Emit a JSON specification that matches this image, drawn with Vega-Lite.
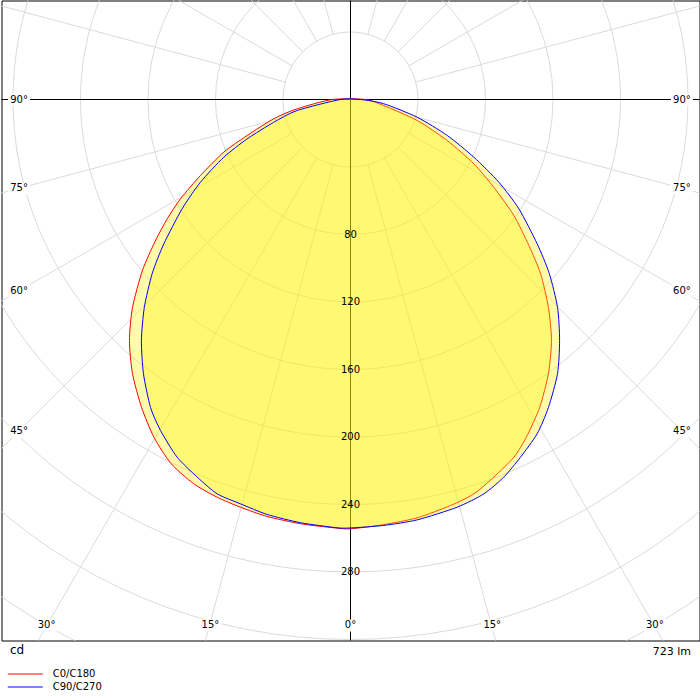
{
  "$schema": "https://vega.github.io/schema/vega-lite/v6.json",
  "width": 698,
  "height": 640,
  "autosize": "none",
  "padding": {"left": 1.5, "top": 0.5, "right": 0.5, "bottom": 59.5},
  "background": "white",
  "config": {"view": {"stroke": "black", "strokeWidth": 1}, "font": "DejaVu Sans"},
  "datasets": {
    "labels": [
      {"t": "90°", "x": -196.4, "y": 0}, {"t": "90°", "x": 196.4, "y": 0},
      {"t": "75°", "x": -196.4, "y": 52.6}, {"t": "75°", "x": 196.4, "y": 52.6},
      {"t": "60°", "x": -196.4, "y": 113.2}, {"t": "60°", "x": 196.4, "y": 113.2},
      {"t": "45°", "x": -196.4, "y": 196.7}, {"t": "45°", "x": 196.4, "y": 196.7},
      {"t": "30°", "x": -180.1, "y": 311.7}, {"t": "30°", "x": 180.3, "y": 311.7},
      {"t": "15°", "x": -83.0, "y": 311.7}, {"t": "15°", "x": 84.0, "y": 311.7},
      {"t": "0°", "x": 0, "y": 311.7}
    ]
  },
  "layer": [
    {
      "data": {"values": [{"r": 40}, {"r": 80}, {"r": 120}, {"r": 160}, {"r": 200}, {"r": 240}, {"r": 280}, {"r": 320}, {"r": 360}]},
      "mark": {"type": "point", "shape": "circle", "filled": false, "stroke": "#dadada", "strokeWidth": 1, "opacity": 1, "clip": true},
      "encoding": {
        "x": {"datum": 0, "type": "quantitative", "scale": {"domain": [-206.81, 206.81], "nice": false, "zero": false},
              "axis": {"title": "723 lm", "labels": false, "ticks": false, "domain": false, "grid": false, "titleX": 689, "titleY": 14, "titleAlign": "right", "titleBaseline": "alphabetic", "titleFontWeight": "normal", "titleFontSize": 11, "titleFont": "DejaVu Sans", "titleColor": "black", "titleAnchor": null}},
        "y": {"datum": 0, "type": "quantitative", "scale": {"domain": [-58.67, 320.59], "nice": false, "zero": false, "reverse": true},
              "axis": {"title": "cd", "labels": false, "ticks": false, "domain": false, "grid": false, "titleX": 8, "titleY": 653, "titleAngle": 0, "titleAlign": "left", "titleBaseline": "alphabetic", "titleFontWeight": "normal", "titleFontSize": 12, "titleFont": "DejaVu Sans", "titleColor": "black", "titleAnchor": null}},
        "size": {"field": "r", "type": "quantitative", "scale": {"type": "pow", "exponent": 2, "domain": [0, 400], "range": [0, 1822500]}, "legend": null}
      }
    },
    {
      "data": {"values": [
        {"x1": 10.35, "y1": 38.64, "x2": 129.41, "y2": 482.96},
        {"x1": 20, "y1": 34.64, "x2": 250, "y2": 433.01},
        {"x1": 28.28, "y1": 28.28, "x2": 353.55, "y2": 353.55},
        {"x1": 34.64, "y1": 20, "x2": 433.01, "y2": 250},
        {"x1": 38.64, "y1": 10.35, "x2": 482.96, "y2": 129.41},
        {"x1": 38.64, "y1": -10.35, "x2": 482.96, "y2": -129.41},
        {"x1": 34.64, "y1": -20, "x2": 433.01, "y2": -250},
        {"x1": 28.28, "y1": -28.28, "x2": 353.55, "y2": -353.55},
        {"x1": 20, "y1": -34.64, "x2": 250, "y2": -433.01},
        {"x1": 10.35, "y1": -38.64, "x2": 129.41, "y2": -482.96},
        {"x1": -10.35, "y1": 38.64, "x2": -129.41, "y2": 482.96},
        {"x1": -20, "y1": 34.64, "x2": -250, "y2": 433.01},
        {"x1": -28.28, "y1": 28.28, "x2": -353.55, "y2": 353.55},
        {"x1": -34.64, "y1": 20, "x2": -433.01, "y2": 250},
        {"x1": -38.64, "y1": 10.35, "x2": -482.96, "y2": 129.41},
        {"x1": -38.64, "y1": -10.35, "x2": -482.96, "y2": -129.41},
        {"x1": -34.64, "y1": -20, "x2": -433.01, "y2": -250},
        {"x1": -28.28, "y1": -28.28, "x2": -353.55, "y2": -353.55},
        {"x1": -20, "y1": -34.64, "x2": -250, "y2": -433.01},
        {"x1": -10.35, "y1": -38.64, "x2": -129.41, "y2": -482.96}
      ]},
      "mark": {"type": "rule", "stroke": "#dadada", "strokeWidth": 1, "clip": true},
      "encoding": {
        "x": {"field": "x1", "type": "quantitative", "scale": {"domain": [-206.81, 206.81], "nice": false, "zero": false}},
        "y": {"field": "y1", "type": "quantitative", "scale": {"domain": [-58.67, 320.59], "nice": false, "zero": false, "reverse": true}},
        "x2": {"field": "x2"},
        "y2": {"field": "y2"}
      }
    },
    {
      "data": {"values": [{"v": 0}]},
      "mark": {"type": "rule", "stroke": "black", "strokeWidth": 1},
      "encoding": {"x": {"field": "v", "type": "quantitative", "scale": {"domain": [-206.81, 206.81], "nice": false, "zero": false}}}
    },
    {
      "data": {"values": [{"v": 0}]},
      "mark": {"type": "rule", "stroke": "black", "strokeWidth": 1},
      "encoding": {"y": {"field": "v", "type": "quantitative", "scale": {"domain": [-58.67, 320.59], "nice": false, "zero": false, "reverse": true}}}
    },
    {
      "data": {"name": "labels"},
      "mark": {"type": "point", "shape": "M-1.1,-0.6H1.1V0.6H-1.1Z", "size": 400, "filled": true, "fill": "white", "strokeWidth": 0, "opacity": 1},
      "encoding": {
        "x": {"field": "x", "type": "quantitative", "scale": {"domain": [-206.81, 206.81], "nice": false, "zero": false}},
        "y": {"field": "y", "type": "quantitative", "scale": {"domain": [-58.67, 320.59], "nice": false, "zero": false, "reverse": true}}
      }
    },
    {
      "data": {"values": [
        {"s": "C0/C180", "i": 1, "x": -10.8, "y": 0},
        {"s": "C0/C180", "i": 2, "x": -31.6, "y": 5.5},
        {"s": "C0/C180", "i": 3, "x": -45.5, "y": 11.4},
        {"s": "C0/C180", "i": 4, "x": -61.2, "y": 21.3},
        {"s": "C0/C180", "i": 5, "x": -75.1, "y": 31.2},
        {"s": "C0/C180", "i": 6, "x": -88.9, "y": 45.0},
        {"s": "C0/C180", "i": 7, "x": -100.7, "y": 58.8},
        {"s": "C0/C180", "i": 8, "x": -108.6, "y": 70.7},
        {"s": "C0/C180", "i": 9, "x": -115.8, "y": 84.1},
        {"s": "C0/C180", "i": 10, "x": -123.3, "y": 101.3},
        {"s": "C0/C180", "i": 11, "x": -129.2, "y": 123.3},
        {"s": "C0/C180", "i": 12, "x": -131.0, "y": 142.8},
        {"s": "C0/C180", "i": 13, "x": -129.2, "y": 162.4},
        {"s": "C0/C180", "i": 14, "x": -123.8, "y": 182.5},
        {"s": "C0/C180", "i": 15, "x": -116.4, "y": 200.3},
        {"s": "C0/C180", "i": 16, "x": -106.2, "y": 215.9},
        {"s": "C0/C180", "i": 17, "x": -92.9, "y": 227.7},
        {"s": "C0/C180", "i": 18, "x": -79.0, "y": 235.7},
        {"s": "C0/C180", "i": 19, "x": -65.2, "y": 241.6},
        {"s": "C0/C180", "i": 20, "x": -49.4, "y": 247.1},
        {"s": "C0/C180", "i": 21, "x": -29.6, "y": 251.4},
        {"s": "C0/C180", "i": 22, "x": -9.9, "y": 253.8},
        {"s": "C0/C180", "i": 23, "x": 0, "y": 254.4},
        {"s": "C0/C180", "i": 24, "x": 19.7, "y": 251.9},
        {"s": "C0/C180", "i": 25, "x": 39.5, "y": 247.9},
        {"s": "C0/C180", "i": 26, "x": 59.3, "y": 240.6},
        {"s": "C0/C180", "i": 27, "x": 73.1, "y": 233.7},
        {"s": "C0/C180", "i": 28, "x": 84.9, "y": 223.8},
        {"s": "C0/C180", "i": 29, "x": 96.8, "y": 212.0},
        {"s": "C0/C180", "i": 30, "x": 104.2, "y": 200.1},
        {"s": "C0/C180", "i": 31, "x": 112.1, "y": 182.5},
        {"s": "C0/C180", "i": 32, "x": 117.3, "y": 162.4},
        {"s": "C0/C180", "i": 33, "x": 119.1, "y": 142.8},
        {"s": "C0/C180", "i": 34, "x": 117.3, "y": 123.3},
        {"s": "C0/C180", "i": 35, "x": 112.6, "y": 103.1},
        {"s": "C0/C180", "i": 36, "x": 105.7, "y": 86.5},
        {"s": "C0/C180", "i": 37, "x": 96.8, "y": 68.7},
        {"s": "C0/C180", "i": 38, "x": 84.9, "y": 52.0},
        {"s": "C0/C180", "i": 39, "x": 73.1, "y": 38.1},
        {"s": "C0/C180", "i": 40, "x": 57.3, "y": 24.3},
        {"s": "C0/C180", "i": 41, "x": 39.5, "y": 12.4},
        {"s": "C0/C180", "i": 42, "x": 19.7, "y": 3.6},
        {"s": "C0/C180", "i": 43, "x": 8.9, "y": 0},
        {"s": "C90/C270", "i": 1, "x": -6.0, "y": 0},
        {"s": "C90/C270", "i": 2, "x": -31.6, "y": 6.5},
        {"s": "C90/C270", "i": 3, "x": -45.5, "y": 13.5},
        {"s": "C90/C270", "i": 4, "x": -61.2, "y": 23.3},
        {"s": "C90/C270", "i": 5, "x": -75.1, "y": 34.2},
        {"s": "C90/C270", "i": 6, "x": -88.9, "y": 49.0},
        {"s": "C90/C270", "i": 7, "x": -99.8, "y": 64.8},
        {"s": "C90/C270", "i": 8, "x": -110.6, "y": 85.5},
        {"s": "C90/C270", "i": 9, "x": -117.5, "y": 103.1},
        {"s": "C90/C270", "i": 10, "x": -122.2, "y": 123.3},
        {"s": "C90/C270", "i": 11, "x": -123.9, "y": 142.8},
        {"s": "C90/C270", "i": 12, "x": -122.7, "y": 162.4},
        {"s": "C90/C270", "i": 13, "x": -118.5, "y": 182.5},
        {"s": "C90/C270", "i": 14, "x": -112.6, "y": 196.1},
        {"s": "C90/C270", "i": 15, "x": -102.7, "y": 212.0},
        {"s": "C90/C270", "i": 16, "x": -90.8, "y": 223.8},
        {"s": "C90/C270", "i": 17, "x": -79.0, "y": 233.7},
        {"s": "C90/C270", "i": 18, "x": -65.2, "y": 239.6},
        {"s": "C90/C270", "i": 19, "x": -49.4, "y": 245.9},
        {"s": "C90/C270", "i": 20, "x": -29.6, "y": 250.8},
        {"s": "C90/C270", "i": 21, "x": -7.9, "y": 253.8},
        {"s": "C90/C270", "i": 22, "x": 0, "y": 253.9},
        {"s": "C90/C270", "i": 23, "x": 19.7, "y": 252.4},
        {"s": "C90/C270", "i": 24, "x": 39.5, "y": 249.1},
        {"s": "C90/C270", "i": 25, "x": 63.2, "y": 241.6},
        {"s": "C90/C270", "i": 26, "x": 79.0, "y": 233.7},
        {"s": "C90/C270", "i": 27, "x": 90.8, "y": 223.8},
        {"s": "C90/C270", "i": 28, "x": 100.7, "y": 212.0},
        {"s": "C90/C270", "i": 29, "x": 110.6, "y": 198.1},
        {"s": "C90/C270", "i": 30, "x": 117.3, "y": 182.5},
        {"s": "C90/C270", "i": 31, "x": 122.7, "y": 162.4},
        {"s": "C90/C270", "i": 32, "x": 123.9, "y": 142.8},
        {"s": "C90/C270", "i": 33, "x": 122.7, "y": 123.3},
        {"s": "C90/C270", "i": 34, "x": 117.8, "y": 103.1},
        {"s": "C90/C270", "i": 35, "x": 110.6, "y": 85.5},
        {"s": "C90/C270", "i": 36, "x": 99.8, "y": 64.8},
        {"s": "C90/C270", "i": 37, "x": 87.9, "y": 49.0},
        {"s": "C90/C270", "i": 38, "x": 73.1, "y": 34.2},
        {"s": "C90/C270", "i": 39, "x": 57.3, "y": 21.3},
        {"s": "C90/C270", "i": 40, "x": 39.5, "y": 10.5},
        {"s": "C90/C270", "i": 41, "x": 19.7, "y": 2.5},
        {"s": "C90/C270", "i": 42, "x": 6.0, "y": 0}
      ]},
      "mark": {"type": "line", "interpolate": "cardinal-closed", "tension": 0.3, "fill": "#fff200", "fillOpacity": 0.33, "strokeWidth": 1, "clip": true},
      "encoding": {
        "x": {"field": "x", "type": "quantitative", "scale": {"domain": [-206.81, 206.81], "nice": false, "zero": false}},
        "y": {"field": "y", "type": "quantitative", "scale": {"domain": [-58.67, 320.59], "nice": false, "zero": false, "reverse": true}},
        "order": {"field": "i", "type": "quantitative"},
        "color": {"field": "s", "type": "nominal",
                  "scale": {"domain": ["C0/C180", "C90/C270"], "range": ["#ff0000", "#0000ff"]},
                  "legend": {"orient": "none", "legendX": 5.8, "legendY": 668, "title": null, "symbolType": "M-1,0H6", "symbolSize": 100, "symbolStrokeWidth": 1, "symbolFillColor": "transparent", "labelFont": "DejaVu Sans", "labelFontSize": 10, "labelColor": "black", "labelOffset": 34.4, "rowPadding": 2, "padding": 0, "offset": 0}}
      }
    },
    {
      "data": {"values": [{"r": 80}, {"r": 120}, {"r": 160}, {"r": 200}, {"r": 240}, {"r": 280}]},
      "mark": {"type": "text", "font": "DejaVu Sans", "fontSize": 10, "color": "black", "align": "center", "baseline": "middle"},
      "encoding": {
        "x": {"datum": 0, "type": "quantitative", "scale": {"domain": [-206.81, 206.81], "nice": false, "zero": false}},
        "y": {"field": "r", "type": "quantitative", "scale": {"domain": [-58.67, 320.59], "nice": false, "zero": false, "reverse": true}},
        "text": {"field": "r", "type": "quantitative"}
      }
    },
    {
      "data": {"name": "labels"},
      "mark": {"type": "text", "font": "DejaVu Sans", "fontSize": 10, "color": "black", "align": "center", "baseline": "middle"},
      "encoding": {
        "x": {"field": "x", "type": "quantitative", "scale": {"domain": [-206.81, 206.81], "nice": false, "zero": false}},
        "y": {"field": "y", "type": "quantitative", "scale": {"domain": [-58.67, 320.59], "nice": false, "zero": false, "reverse": true}},
        "text": {"field": "t", "type": "nominal"}
      }
    }
  ]
}
